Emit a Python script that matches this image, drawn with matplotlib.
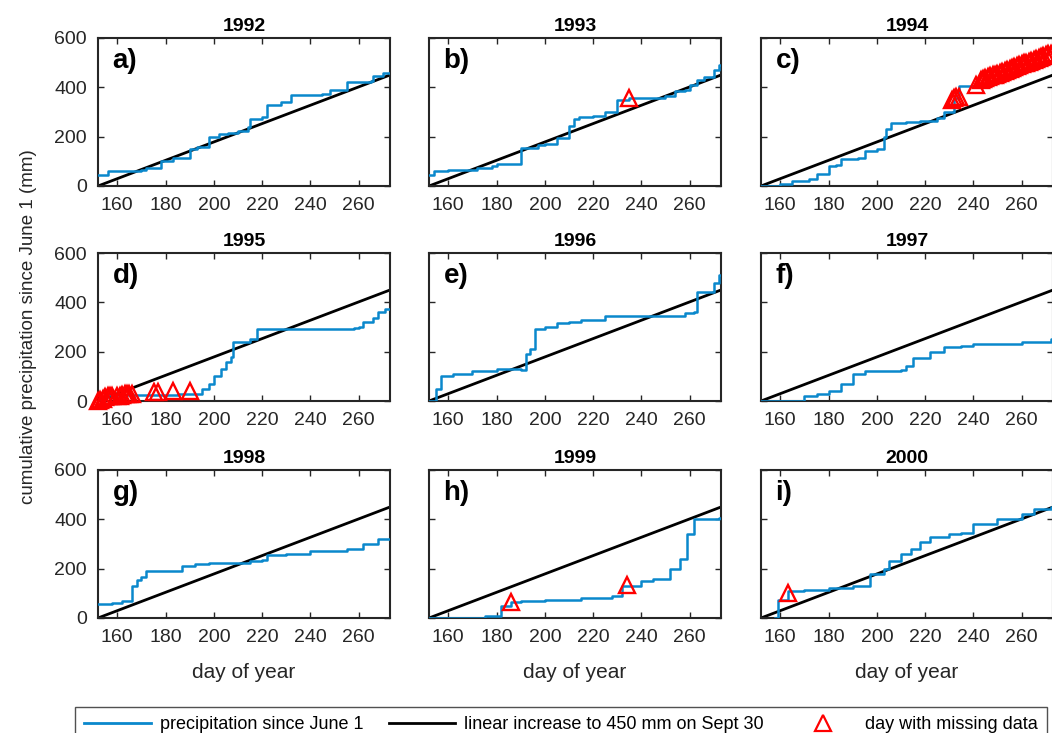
import matplotlib
matplotlib.use("Agg")
import matplotlib.pyplot as plt
from matplotlib.lines import Line2D

plt.rcParams['font.family'] = ['Liberation Sans', 'DejaVu Sans']

years = [1992, 1993, 1994, 1995, 1996, 1997, 1998, 1999, 2000]
labels = ['a)', 'b)', 'c)', 'd)', 'e)', 'f)', 'g)', 'h)', 'i)']

# step breakpoints (day, cumulative mm)
precip_days = [
    [152, 156, 170, 172, 178, 183, 190, 193, 198, 202, 206, 210, 214, 215, 220, 222, 228, 232, 245, 248, 255, 265, 266, 270, 273],
    [152, 154, 160, 172, 178, 180, 190, 197, 200, 205, 210, 212, 214, 220, 225, 230, 235, 245, 250, 254, 258, 260, 263, 266, 270, 272, 273],
    [152, 160, 165, 172, 175, 180, 183, 185, 192, 195, 200, 203, 204, 206, 212, 218, 225, 228, 232, 234, 242],
    [152, 155, 185, 195, 198, 200, 203, 205, 207, 208, 215, 218, 240, 258, 260, 262, 266, 268, 271, 273],
    [152, 155, 157, 162, 170, 180, 190, 192, 194, 196, 200, 205, 210, 215, 225, 255, 258, 262, 263, 270, 272, 273],
    [152, 168, 170, 175, 180, 185, 190, 195, 210, 212, 215, 222, 228, 235, 240, 260, 272, 273],
    [152, 158, 162, 166, 168, 170, 172, 185, 187, 192, 198, 215, 220, 222, 230, 240, 255, 262, 268, 273],
    [152, 172, 175, 182, 186, 190, 200, 215, 228, 232, 240, 245, 252, 256, 259, 262, 272, 273],
    [158, 159, 163, 170, 180, 190, 197, 203, 205, 210, 214, 218, 222, 230, 235, 240, 250, 260, 265, 272, 273],
]
precip_vals = [
    [45, 60, 65, 75, 100, 115, 150, 160, 200, 210, 215, 225, 240, 270, 280, 330, 340, 370, 375, 390, 420, 425, 445, 460, 460],
    [45, 60, 65, 75, 80, 90, 155, 165, 170, 195, 245, 270, 280, 285, 300, 350, 355, 355, 365, 385, 390, 410, 430, 440, 470, 490, 490],
    [0, 10, 20, 30, 50, 80, 85, 110, 115, 140, 150, 200, 230, 255, 260, 265, 275, 300, 355, 405, 410],
    [0, 25, 30, 50, 70, 100, 130, 160, 180, 240, 250, 290, 290, 295, 300, 320, 335, 360, 375, 375],
    [0, 50, 100, 110, 120, 130, 125, 190, 210, 290, 300, 315, 320, 330, 345, 345, 355, 360, 440, 480, 510, 510],
    [0, 0, 20, 30, 40, 70, 110, 120, 125, 140, 175, 200, 220, 225, 230, 240, 250, 250],
    [55, 60, 70, 130, 155, 165, 190, 190, 210, 220, 225, 230, 235, 255, 260, 270, 280, 300, 320, 320],
    [0, 0, 10, 50, 65, 70, 75, 80, 90, 130, 150, 160, 200, 240, 340, 400, 405, 405],
    [0, 75, 110, 115, 120, 130, 180, 200, 230, 260, 280, 310, 330, 340, 345, 380, 400, 420, 440, 450, 450],
]

miss_days = [
    [],
    [235],
    [231, 232, 233, 234, 241, 243, 244, 245, 246, 247, 248, 249, 250, 251, 252, 253, 254, 255, 256, 257, 258,
     259, 260, 261, 262, 263, 264, 265, 266, 267, 268, 269, 270, 271, 272, 273],
    [152, 153, 154, 155, 156, 157, 158, 160, 161, 162, 163, 164, 165, 166, 175, 177, 183, 190],
    [], [], [],
    [186, 234],
    [163],
]
miss_vals = [
    [],
    [355],
    [350, 355, 360, 362, 410, 430, 434, 437, 441, 445, 449, 452, 456, 460, 463, 467, 471, 474, 478, 482, 486,
     489, 493, 497, 500, 504, 508, 511, 515, 519, 523, 526, 530, 534, 537, 541],
    [0, 5, 10, 15, 20, 20, 22, 20, 22, 25, 28, 30, 30, 30, 35, 35, 40, 40],
    [], [], [],
    [65, 135],
    [100],
]

line_days = [152, 273]
line_vals = [0, 450]

blue = '#0a88cc'
dark = '#262626'
fig = plt.figure(figsize=(10.52, 7.33), dpi=100)
W, H = 1052, 733
lefts = [98, 429, 761]
tops = [38, 253, 470]
aw, ah = 292, 148

for i in range(9):
    r, c = divmod(i, 3)
    ax = fig.add_axes([lefts[c] / W, 1 - (tops[r] + ah) / H, aw / W, ah / H])
    ax.plot(line_days, line_vals, color='black', lw=2, zorder=2)
    ax.plot(precip_days[i], precip_vals[i], color=blue, lw=1.8, drawstyle='steps-post', zorder=3)
    if miss_days[i]:
        ax.plot(miss_days[i], miss_vals[i], ls='none', marker='^', ms=12, mfc='none',
                mec='red', mew=1.7, zorder=4, clip_on=False)
    ax.set_xlim(152, 273)
    ax.set_ylim(0, 600)
    ax.set_xticks([160, 180, 200, 220, 240, 260])
    ax.set_yticks([0, 200, 400, 600])
    if c != 0:
        ax.set_yticklabels([])
    ax.tick_params(labelsize=14, direction='in', length=4, colors=dark, width=1,
                   top=True, right=True, pad=8)
    for s in ax.spines.values():
        s.set_linewidth(1.5)
        s.set_color(dark)
    ax.set_title(str(years[i]), fontsize=14, fontweight='bold', pad=5)
    ax.text(0.05, 0.93, labels[i], transform=ax.transAxes, fontsize=20, fontweight='bold',
            va='top', ha='left')
    if r == 2:
        ax.set_xlabel('day of year', fontsize=15, color=dark, labelpad=12)
    if i == 3:
        ax.set_ylabel('cumulative precipitation since June 1 (mm)', fontsize=13.5, color=dark, labelpad=12)

handles = [Line2D([], [], color=blue, lw=2),
           Line2D([], [], color='black', lw=2),
           Line2D([], [], ls='none', marker='^', ms=12, mfc='none', mec='red', mew=1.6)]
leg = fig.legend(handles, ['precipitation since June 1', 'linear increase to 450 mm on Sept 30',
                           'day with missing data'],
                 loc='upper left', bbox_to_anchor=(66 / W, 1 - 698 / H), ncol=3, fontsize=13,
                 frameon=True, fancybox=False, edgecolor=dark, handlelength=3.7,
                 columnspacing=1.4, borderpad=0.5, handletextpad=0.5)
leg.get_frame().set_linewidth(1)
fig.savefig('out.png', dpi=100)
